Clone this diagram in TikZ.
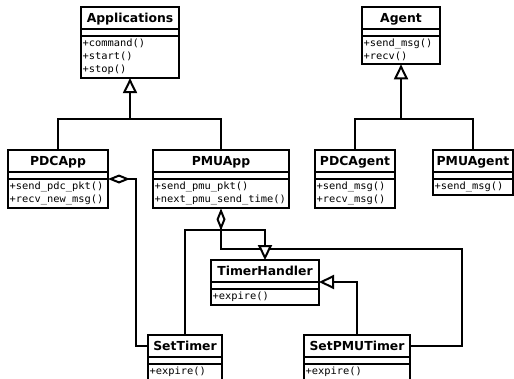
\documentclass[tikz,border=0pt]{standalone}
\usepackage{fontspec}
\setsansfont{DejaVu Sans}
\newfontfamily\opsfont[FakeStretch=1.04]{DejaVu Sans Mono}
\usetikzlibrary{arrows.meta,positioning}

\begin{document}
\begin{tikzpicture}[x=1pt, y=-1pt,
    classname/.style={rectangle, draw, line width=2pt, fill=white, outer sep=0pt, inner sep=0pt, minimum width=#1, minimum height=22pt, text height=10pt, text depth=2pt, font=\sffamily\bfseries\fontsize{12.4}{14}\selectfont},
    classattr/.style={rectangle, draw, line width=2pt, fill=white, outer sep=0pt, inner sep=0pt, minimum width=#1, minimum height=7pt},
    classops/.style={rectangle, draw, line width=2pt, fill=white, outer sep=0pt, inner xsep=1.5pt, inner ysep=3.2pt, text width=#1, align=left, font=\opsfont\fontsize{10}{13}\selectfont},
    conn/.style={line width=2pt},
    inherit/.style={conn, -{Triangle[length=15pt, width=14pt, fill=white]}},
    aggr/.style={conn, -{Diamond[length=22pt, width=9pt, fill=white]}}
]
\useasboundingbox (0,0) rectangle (514,378);

% Base classes
\node[classname=98pt, anchor=north west] (apps) at (81,7) {Applications};
\node[classattr=98pt, below=0pt of apps] (apps-attr) {};
\node[classops=95pt, below=0pt of apps-attr] (apps-ops) {+command()\\+start()\\+stop()};

\node[classname=78pt, anchor=north west] (agent) at (362,7) {Agent};
\node[classattr=78pt, below=0pt of agent] (agent-attr) {};
\node[classops=75pt, below=0pt of agent-attr] (agent-ops) {+send\_msg()\\+recv()};

% Applications
\node[classname=100pt, anchor=north west] (pdcapp) at (8,150) {PDCApp};
\node[classattr=100pt, below=0pt of pdcapp] (pdcapp-attr) {};
\node[classops=97pt, below=0pt of pdcapp-attr] (pdcapp-ops) {+send\_pdc\_pkt()\\+recv\_new\_msg()};

\node[classname=136pt, anchor=north west] (pmuapp) at (153,150) {PMUApp};
\node[classattr=136pt, below=0pt of pmuapp] (pmuapp-attr) {};
\node[classops=133pt, below=0pt of pmuapp-attr] (pmuapp-ops) {+send\_pmu\_pkt()\\+next\_pmu\_send\_time()};

% Agents
\node[classname=80pt, anchor=north west] (pdcagent) at (315,150) {PDCAgent};
\node[classattr=80pt, below=0pt of pdcagent] (pdcagent-attr) {};
\node[classops=77pt, below=0pt of pdcagent-attr] (pdcagent-ops) {+send\_msg()\\+recv\_msg()};

\node[classname=80pt, anchor=north west] (pmuagent) at (433,150) {PMUAgent};
\node[classattr=80pt, below=0pt of pmuagent] (pmuagent-attr) {};
\node[classops=77pt, below=0pt of pmuagent-attr] (pmuagent-ops) {+send\_msg()};

% Timers
\node[classname=108pt, anchor=north west] (timer) at (211,260) {TimerHandler};
\node[classattr=108pt, below=0pt of timer] (timer-attr) {};
\node[classops=105pt, below=0pt of timer-attr] (timer-ops) {+expire()};

\node[classname=74pt, anchor=north west] (settimer) at (148,335) {SetTimer};
\node[classattr=74pt, below=0pt of settimer] (settimer-attr) {};
\node[classops=71pt, below=0pt of settimer-attr] (settimer-ops) {+expire()};

\node[classname=106pt, anchor=north west] (setpmu) at (304,335) {SetPMUTimer};
\node[classattr=106pt, below=0pt of setpmu] (setpmu-attr) {};
\node[classops=103pt, below=0pt of setpmu-attr] (setpmu-ops) {+expire()};

% Bends
\coordinate (appsjoin) at (130,119);
\coordinate (agentjoin) at (401,119);
\coordinate (pmujoin) at (221,230);
\coordinate (loopcorner) at (462,249);

% Generalisation
\draw[conn] (pdcapp.north) |- (appsjoin) -| (pmuapp.north);
\draw[inherit] (appsjoin) -- (apps-ops.south);
\draw[conn] (pdcagent.north) |- (agentjoin) -| (pmuagent.north);
\draw[inherit] (agentjoin) -- (agent-ops.south);

% Aggregation
\draw[aggr] (settimer.west) -- ++(-12,0) |- (pdcapp-ops.north east);
\draw[conn] (setpmu.east) -| (loopcorner) -| (pmujoin);
\draw[conn] (settimer.north) |- (pmujoin);
\draw[aggr] (pmujoin) -- (pmuapp-ops.south);
\draw[inherit] (pmujoin) -| (timer.north);
\draw[inherit] (setpmu.north) |- (timer.south east);

\end{tikzpicture}
\end{document}
